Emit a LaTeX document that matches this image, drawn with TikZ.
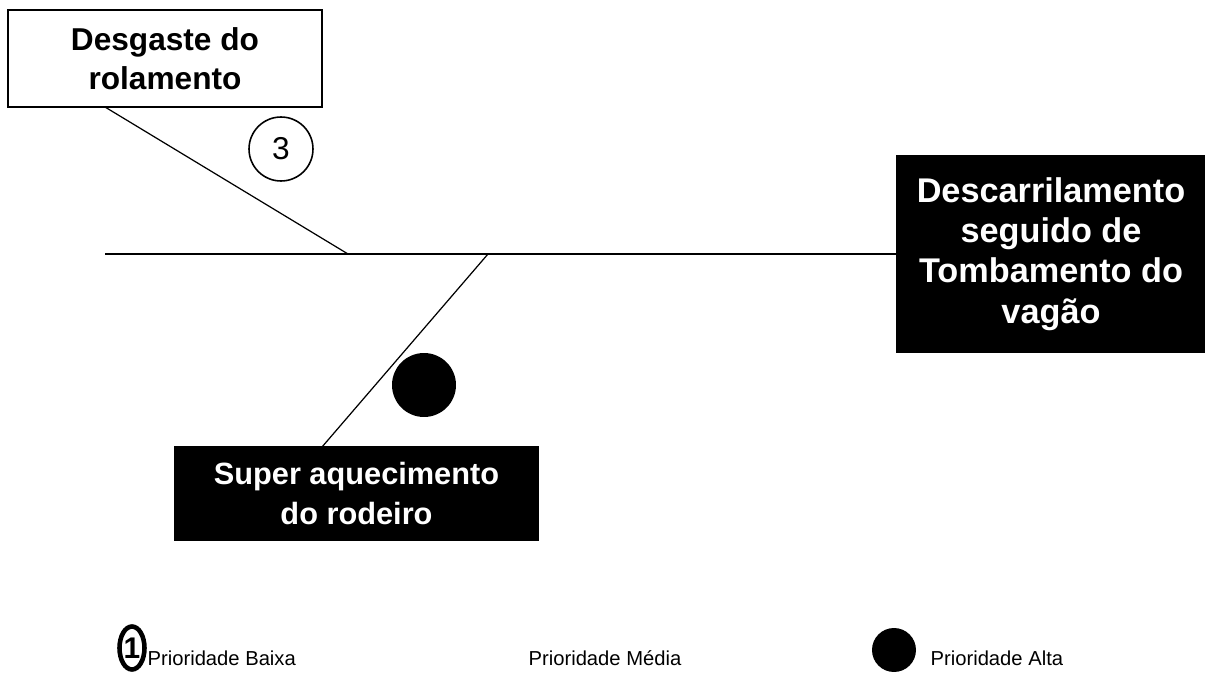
\documentclass[tikz,border=0pt]{standalone}
\usepackage{fontspec}
\setmainfont{Liberation Sans}
\usepackage{tikz}
\usetikzlibrary{shapes.geometric, positioning}

\begin{document}
\begin{tikzpicture}[
  x=0.02cm, y=-0.02cm,
  line width=0.7pt,
  cause/.style={rectangle, draw=black, fill=white, align=center, inner sep=0pt, line width=0.9pt},
  causedark/.style={rectangle, draw=black, fill=black, text=white, align=center, inner sep=0pt},
  effect/.style={rectangle, draw=black, fill=black, text=white, align=center, inner sep=0pt,
    font=\fontsize{19.5}{23}\selectfont\bfseries},
  badge/.style={circle, draw=black, fill=white, minimum size=1.28cm, inner sep=0pt,
    line width=0.9pt, font=\fontsize{18}{18}\selectfont},
  dot/.style={circle, fill=black, inner sep=0pt},
  legend/.style={anchor=west, inner sep=0pt, font=\fontsize{11.5}{13}\selectfont}
]
\useasboundingbox (0,0) rectangle (1205,676);

% boxes
\node[cause, minimum width=6.28cm, minimum height=1.94cm,
  font=\fontsize{18}{22}\selectfont\bfseries] (rol) at (165,58.5) {Desgaste do\\rolamento};
\node[effect, minimum width=6.16cm, minimum height=3.92cm] (tomb) at (1051,254)
  {Descarrilamento\\seguido de\\Tombamento do\\vagão};
\node[causedark, minimum width=7.26cm, minimum height=1.86cm,
  font=\fontsize{17.5}{22.5}\selectfont\bfseries] (aquec) at (356.5,493.5)
  {Super aquecimento\\do rodeiro};

% spine and branches
\coordinate (tail) at (105,254);
\coordinate (j1) at (348,254);
\coordinate (j2) at (488,254);
\coordinate (r1) at (105,107);
\coordinate (s1) at (322,447);
\draw (tail) -- (tomb.west);
\draw (r1) -- (j1);
\draw (j2) -- (s1);

% priorities
\node[badge] (p3) at (281,149) {3};
\node[dot, minimum size=1.28cm] (pa) at (424,385) {};

% legend
\node[ellipse, draw=black, line width=2.6pt, minimum width=0.5cm, minimum height=0.86cm,
  inner sep=0pt, font=\fontsize{17}{17}\selectfont\bfseries] (lb) at (132,648) {1};
\node[legend] (tb) at (147,658) {Prioridade Baixa};
\node[legend] (tm) at (528,658) {Prioridade Média};
\node[dot, minimum size=0.88cm] (la) at (894,650) {};
\node[legend] (ta) at (930,658) {Prioridade Alta};

\end{tikzpicture}
\end{document}
